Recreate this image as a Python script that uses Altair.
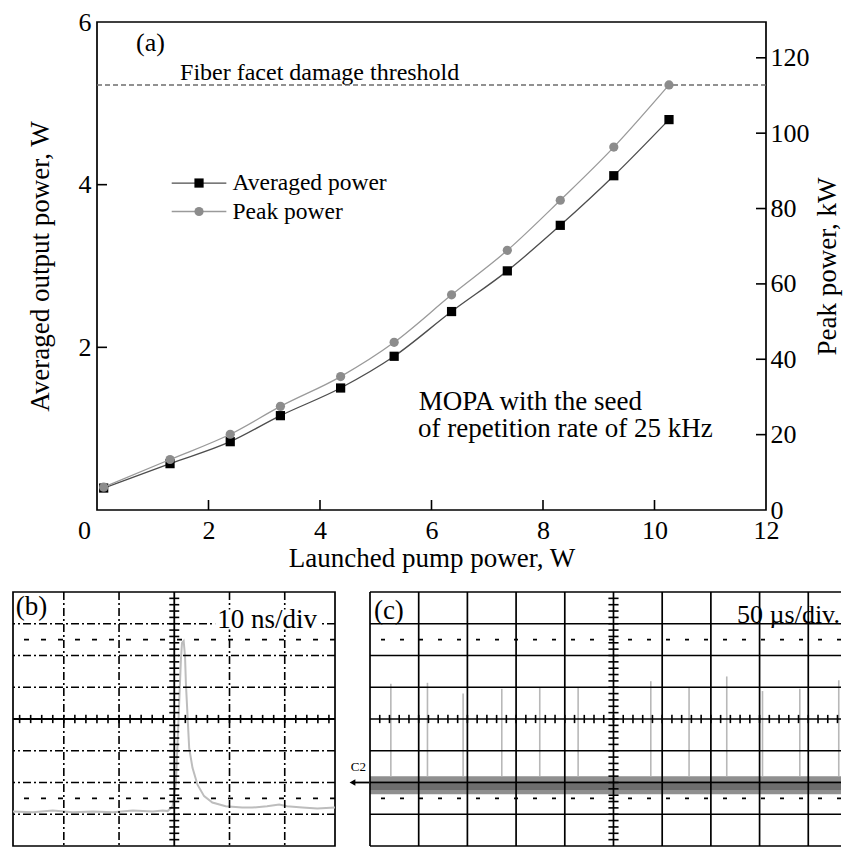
import altair as alt
import pandas as pd

FONT = "Liberation Serif"

# ---------------- panel (a): MOPA output ----------------
PUMP_W = [0.12, 1.31, 2.39, 3.29, 4.37, 5.33, 6.36, 7.36, 8.31, 9.27, 10.26]
AVG_W = [0.27, 0.57, 0.84, 1.16, 1.50, 1.89, 2.44, 2.94, 3.50, 4.11, 4.80]
PEAK_KW = [6.05, 13.4, 20.1, 27.5, 35.4, 44.5, 57.1, 68.9, 82.2, 96.3, 112.8]
THRESHOLD_KW = [112.8]

X_DOMAIN = [0, 12]
YL_DOMAIN = [0, 6]
YR_DOMAIN = [0, 129.5]
X_LABELS = [0, 2, 4, 6, 8, 10, 12]
YL_LABELS = [2, 4, 6]
YR_LABELS = [0, 20, 40, 60, 80, 100, 120]
X_INNER_TICKS = [2, 4, 6, 8, 10]
YL_INNER_TICKS = [2, 4]
YR_INNER_TICKS = [20, 40, 60, 80, 100, 120]

LEGEND_LABELS = ["Averaged power", "Peak power"]
LEGEND_Y = [4.02, 3.67]
LEGEND_LINE_X = [1.34, 2.32]
LEGEND_MARK_X = [1.83, 1.83]
LEGEND_TEXT_X = [2.43, 2.43]
LEGEND_LINE_COLOR = ["#4d4d4d", "#9a9a9a"]
LEGEND_MARK_COLOR = ["#000000", "#8c8c8c"]
LEGEND_SHAPE = ["square", "circle"]

NOTE_TEXTS = ["(a)", "Fiber facet damage threshold",
              "MOPA with the seed", "of repetition rate of 25 kHz"]
NOTE_X = [0.70, 1.49, 5.77, 5.76]
NOTE_Y = [5.74, 5.37, 1.33, 0.99]
NOTE_SIZE = [26, 24, 27, 27]

# ---------------- panel (b): single pulse, 10 ns/div ----------------
B_T_DOMAIN = [-29.2, 29.1]
DIV_DOMAIN = [-4, 4]
PULSE_T_NS = [-29.2, -25.6, -22.0, -18.4, -14.7, -11.1, -7.5, -3.9, -2.1, -1.2,
              -0.3, 0.3, 0.8, 1.2, 1.4, 1.7, 1.95, 2.1, 2.4, 2.7,
              3.3, 4.2, 5.4, 6.9, 9.3, 12.3, 14.1, 16.8, 19.0, 20.4,
              23.2, 25.9, 29.1]
PULSE_DIV = [-2.91, -2.94, -2.88, -2.94, -2.91, -2.94, -2.88, -2.91, -2.88, -2.90,
             -2.75, -1.97, 0.10, 1.87, 2.40, 2.46, 1.97, 1.14, 0.10, -0.92,
             -1.54, -2.07, -2.43, -2.63, -2.75, -2.79, -2.79, -2.75, -2.69, -2.75,
             -2.79, -2.82, -2.79]
B_VGRID = [-20, -10, 10, 20]
B_HGRID = [-3, -2, -1, 1, 2, 3]
B_MINOR_T = [v * 2 for v in range(-14, 15)]
B_TEXTS = ["(b)", "10 ns/div"]
B_TEXT_T = [-28.7, 7.8]
B_TEXT_Y = [3.52, 3.13]
B_TEXT_BG = [7.4, 26.4, 2.82, 3.45]

# ---------------- panel (c): pulse train, 50 us/div ----------------
C_T_DOMAIN = [-250, 233.6]
SPIKE_T_US = [-228.6, -191.0, -154.4, -114.7, -75.7, -36.3,
              38.3, 77.6, 116.3, 153.0, 191.3, 231.3]
SPIKE_DIV = [1.11, 1.14, 0.80, 0.95, 0.98, 0.98,
             1.19, 0.98, 1.34, 0.88, 0.95, 1.22]
NOISE_OUTER = [-2.37, -1.80]
NOISE_CORE = [-2.24, -1.95]
C_VGRID = [-250, -200, -150, -100, -50, 0, 50, 100, 150, 200]
C_HGRID = [-4, -3, -2, -1, 0, 1, 2, 3, 4]
C_MINOR_T = [v * 10 for v in range(-24, 24)]
MINOR_DIV = [v / 5 for v in range(-19, 20)]
C_LABEL = ["(c)"]
C_LABEL_POS = [-246, 3.40]
C_SCALE_TEXT = ["50 µs/div."]
C_SCALE_POS = [232.5, 3.27]
C2_LABEL = ["C2"]
C2_POS = [-262, -1.52]
C2_ARROW = [-268, -251, -2.0]

W_MAIN, H_MAIN = 669, 488
W_B, W_C, H_BOT = 322, 471, 254

# ================= panel (a) =================
xs = alt.Scale(domain=X_DOMAIN, nice=False, zero=False)
yls = alt.Scale(domain=YL_DOMAIN, nice=False, zero=False)
yrs = alt.Scale(domain=YR_DOMAIN, nice=False, zero=False)

x_axis = alt.Axis(values=X_LABELS, title="Launched pump power, W", domain=False,
                  ticks=False, tickSize=0, grid=False, labelFont=FONT, labelFontSize=26,
                  labelColor="black", labelPadding=7, labelOverlap=False, labelFlush=False,
                  labelOffset={"expr": "datum.value == 0 ? -13 : 0"},
                  titleFont=FONT, titleFontSize=27, titleFontWeight="normal",
                  titleColor="black", titlePadding=2)
yl_axis = alt.Axis(values=YL_LABELS, title="Averaged output power, W", orient="left",
                   domain=False, ticks=False, tickSize=0, grid=False, labelFont=FONT,
                   labelFontSize=26, labelColor="black", labelPadding=6, labelOverlap=False,
                   labelFlush=False, titleFont=FONT, titleFontSize=27,
                   titleFontWeight="normal", titleColor="black", titlePadding=24)
yr_axis = alt.Axis(values=YR_LABELS, title="Peak power, kW", orient="right",
                   domain=False, ticks=False, tickSize=0, grid=False, labelFont=FONT,
                   labelFontSize=26, labelColor="black", labelPadding=4, labelOverlap=False,
                   labelFlush=False, titleFont=FONT, titleFontSize=27,
                   titleFontWeight="normal", titleColor="black", titlePadding=5,
                   titleAngle=270, titleBaseline="top")

main_df = pd.DataFrame({"pump": PUMP_W, "avg": AVG_W, "peak": PEAK_KW})
X = alt.X("pump:Q", scale=xs, axis=x_axis)
YL = alt.Y("avg:Q", scale=yls, axis=yl_axis)
YR = alt.Y("peak:Q", scale=yrs, axis=yr_axis)

avg_line = alt.Chart(main_df).mark_line(interpolate="monotone", color="#4d4d4d",
                                        strokeWidth=1.3).encode(x=X, y=YL)
avg_pts = alt.Chart(main_df).mark_point(shape="square", filled=True, size=85,
                                        color="black", opacity=1).encode(x=X, y=YL)

x_ticks = alt.Chart(pd.DataFrame({"pump": X_INNER_TICKS})).mark_rule(
    color="black", strokeWidth=1.6).encode(x=X, y=alt.value(H_MAIN), y2=alt.value(H_MAIN - 10))
yl_ticks = alt.Chart(pd.DataFrame({"avg": YL_INNER_TICKS})).mark_rule(
    color="black", strokeWidth=1.6).encode(y=YL, x=alt.value(0), x2=alt.value(10))

notes_df = pd.DataFrame({"text": NOTE_TEXTS, "pump": NOTE_X, "avg": NOTE_Y, "size": NOTE_SIZE})
notes = alt.Chart(notes_df).mark_text(align="left", baseline="middle", font=FONT,
                                      color="black").encode(
    x=X, y=YL, text="text:N", size=alt.Size("size:Q", scale=None))

leg_df = pd.DataFrame({"label": LEGEND_LABELS, "avg": LEGEND_Y,
                       "x1": [LEGEND_LINE_X[0]] * 2, "x2": [LEGEND_LINE_X[1]] * 2,
                       "pump": LEGEND_MARK_X, "tx": LEGEND_TEXT_X,
                       "lc": LEGEND_LINE_COLOR, "mc": LEGEND_MARK_COLOR,
                       "shape": LEGEND_SHAPE})
leg_lines = alt.Chart(leg_df).mark_rule(strokeWidth=1.3).encode(
    x=alt.X("x1:Q", scale=xs, axis=x_axis), x2="x2:Q", y=YL,
    color=alt.Color("lc:N", scale=None))
leg_marks = alt.Chart(leg_df).mark_point(filled=True, size=85, opacity=1).encode(
    x=X, y=YL, shape=alt.Shape("shape:N", scale=None), color=alt.Color("mc:N", scale=None))
leg_text = alt.Chart(leg_df).mark_text(align="left", baseline="middle", font=FONT,
                                       fontSize=23.5, color="black").encode(
    x=alt.X("tx:Q", scale=xs, axis=x_axis), y=YL, text="label:N")

# invisible helper that fixes how far the left axis block extends
spacer = alt.Chart(pd.DataFrame({"s": ["."]})).mark_text(
    align="left", baseline="middle", color="white", fontSize=12, font=FONT).encode(
    text="s:N", x=alt.value(-72), y=alt.value(H_MAIN / 2))

left_group = alt.layer(avg_line, avg_pts, x_ticks, yl_ticks, notes,
                       leg_lines, leg_marks, leg_text, spacer)

peak_line = alt.Chart(main_df).mark_line(interpolate="monotone", color="#9a9a9a",
                                         strokeWidth=1.3).encode(x=X, y=YR)
peak_pts = alt.Chart(main_df).mark_point(shape="circle", filled=True, size=85,
                                         color="#8c8c8c", opacity=1).encode(x=X, y=YR)
threshold = alt.Chart(pd.DataFrame({"peak": THRESHOLD_KW})).mark_rule(
    color="#6e6e6e", strokeWidth=1.6, strokeDash=[5, 3]).encode(y=YR)
yr_ticks = alt.Chart(pd.DataFrame({"peak": YR_INNER_TICKS})).mark_rule(
    color="black", strokeWidth=1.6).encode(y=YR, x=alt.value(W_MAIN), x2=alt.value(W_MAIN - 10))

right_group = alt.layer(threshold, peak_line, peak_pts, yr_ticks)

main = alt.layer(left_group, right_group).resolve_scale(y="independent").properties(
    width=W_MAIN, height=H_MAIN)

# empty slot to the left of panel (a), so that panel (b) can start further left
dummy = alt.Chart(pd.DataFrame({"a": [0]})).mark_point(size=0, opacity=0).encode(
    x=alt.value(0), y=alt.value(0)).properties(
    width=1, height=1, view=alt.ViewBackground(stroke="transparent"))

top = alt.hconcat(dummy, main, spacing=9)

# ================= panel (b) =================
bx = alt.Scale(domain=B_T_DOMAIN, nice=False, zero=False)
by = alt.Scale(domain=DIV_DOMAIN, nice=False, zero=False)
BX = alt.X("t:Q", scale=bx, axis=None)
BY = alt.Y("d:Q", scale=by, axis=None)

b_trace = alt.Chart(pd.DataFrame({"t": PULSE_T_NS, "d": PULSE_DIV})).mark_line(
    color="#bdbdbd", strokeWidth=2).encode(x=BX, y=BY)
b_vgrid = alt.Chart(pd.DataFrame({"t": B_VGRID})).mark_rule(
    color="black", strokeWidth=1.6, strokeDash=[8, 3, 2, 3]).encode(x=BX)
b_hgrid = alt.Chart(pd.DataFrame({"d": B_HGRID})).mark_rule(
    color="black", strokeWidth=1.6, strokeDash=[8, 3, 2, 3]).encode(y=BY)
b_dash = alt.Chart(pd.DataFrame({"d": [-2.5, 2.5]})).mark_rule(
    color="black", strokeWidth=1.6, strokeDash=[5, 12]).encode(y=BY)
b_cv = alt.Chart(pd.DataFrame({"t": [0]})).mark_rule(color="black", strokeWidth=1.8).encode(x=BX)
b_ch = alt.Chart(pd.DataFrame({"d": [0]})).mark_rule(color="black", strokeWidth=1.8).encode(y=BY)
b_mt = alt.Chart(pd.DataFrame({"t": B_MINOR_T})).mark_rule(color="black", strokeWidth=1.6).encode(
    x=BX, y=alt.Y(datum=-0.13, scale=by, axis=None), y2=alt.Y2(datum=0.13))
b_mv = alt.Chart(pd.DataFrame({"d": MINOR_DIV})).mark_rule(color="black", strokeWidth=1.6).encode(
    y=BY, x=alt.X(datum=-0.9, scale=bx, axis=None), x2=alt.X2(datum=0.9))
b_bg = alt.Chart(pd.DataFrame({"t": [B_TEXT_BG[0]], "t2": [B_TEXT_BG[1]],
                               "d": [B_TEXT_BG[2]], "d2": [B_TEXT_BG[3]]})).mark_rect(
    color="white").encode(x=BX, x2="t2:Q", y=BY, y2="d2:Q")
b_text = alt.Chart(pd.DataFrame({"s": B_TEXTS, "t": B_TEXT_T, "d": B_TEXT_Y})).mark_text(
    align="left", baseline="middle", font=FONT, fontSize=27, color="black").encode(
    x=BX, y=BY, text="s:N")

panel_b = alt.layer(b_trace, b_vgrid, b_hgrid, b_dash, b_cv, b_ch, b_mt, b_mv,
                    b_bg, b_text).properties(width=W_B, height=H_BOT)

# ================= panel (c) =================
cx = alt.Scale(domain=C_T_DOMAIN, nice=False, zero=False)
cy = alt.Scale(domain=DIV_DOMAIN, nice=False, zero=False)
CX = alt.X("t:Q", scale=cx, axis=None)
CY = alt.Y("d:Q", scale=cy, axis=None)

band_df = pd.DataFrame({"t": [C_T_DOMAIN[0]] * 2, "t2": [C_T_DOMAIN[1]] * 2,
                        "d": [NOISE_OUTER[0], NOISE_CORE[0]],
                        "d2": [NOISE_OUTER[1], NOISE_CORE[1]],
                        "c": ["#8f8f8f", "#6e6e6e"]})
c_band = alt.Chart(band_df).mark_rect().encode(
    x=CX, x2="t2:Q", y=CY, y2="d2:Q", color=alt.Color("c:N", scale=None))
c_spikes = alt.Chart(pd.DataFrame({"t": SPIKE_T_US, "d": SPIKE_DIV})).mark_rule(
    color="#b8b8b8", strokeWidth=1.6).encode(x=CX, y=CY, y2=alt.Y2(datum=NOISE_OUTER[1]))
c_vgrid = alt.Chart(pd.DataFrame({"t": C_VGRID})).mark_rule(
    color="black", strokeWidth=1.7).encode(x=CX)
c_hgrid = alt.Chart(pd.DataFrame({"d": C_HGRID})).mark_rule(
    color="black", strokeWidth=1.7).encode(y=CY)
c_dash = alt.Chart(pd.DataFrame({"d": [-2.5, 2.5]})).mark_rule(
    color="black", strokeWidth=1.6, strokeDash=[4, 15]).encode(y=CY)
c_mt = alt.Chart(pd.DataFrame({"t": C_MINOR_T})).mark_rule(color="black", strokeWidth=1.6).encode(
    x=CX, y=alt.Y(datum=-0.13, scale=cy, axis=None), y2=alt.Y2(datum=0.13))
c_mv = alt.Chart(pd.DataFrame({"d": MINOR_DIV})).mark_rule(color="black", strokeWidth=1.6).encode(
    y=CY, x=alt.X(datum=-5.2, scale=cx, axis=None), x2=alt.X2(datum=5.2))
c_label = alt.Chart(pd.DataFrame({"s": C_LABEL, "t": [C_LABEL_POS[0]], "d": [C_LABEL_POS[1]]})).mark_text(
    align="left", baseline="middle", font=FONT, fontSize=27, color="black").encode(
    x=CX, y=CY, text="s:N")
c_scale = alt.Chart(pd.DataFrame({"s": C_SCALE_TEXT, "t": [C_SCALE_POS[0]], "d": [C_SCALE_POS[1]]})).mark_text(
    align="right", baseline="middle", font=FONT, fontSize=26, color="black").encode(
    x=CX, y=CY, text="s:N")
c2_text = alt.Chart(pd.DataFrame({"s": C2_LABEL, "t": [C2_POS[0]], "d": [C2_POS[1]]})).mark_text(
    align="center", baseline="middle", font=FONT, fontSize=13, color="black").encode(
    x=CX, y=CY, text="s:N")
c2_line = alt.Chart(pd.DataFrame({"t": [C2_ARROW[0]], "t2": [C2_ARROW[1]], "d": [C2_ARROW[2]]})).mark_rule(
    color="black", strokeWidth=1.8).encode(x=CX, x2="t2:Q", y=CY)
c2_head = alt.Chart(pd.DataFrame({"t": [C2_ARROW[0]], "d": [C2_ARROW[2]]})).mark_point(
    shape="triangle-left", filled=True, size=45, color="black", opacity=1).encode(x=CX, y=CY)

panel_c = alt.layer(c_band, c_spikes, c_vgrid, c_hgrid, c_dash, c_mt, c_mv, c_label,
                    c_scale, c2_text, c2_line, c2_head).properties(
    width=W_C, height=H_BOT, view=alt.ViewBackground(stroke="transparent"))

bottom = alt.hconcat(panel_b, panel_c, spacing=8)

chart = alt.vconcat(top, bottom, spacing=18).properties(
    padding={"left": 0, "top": 0, "right": 0, "bottom": 0}).configure_view(
    stroke="black", strokeWidth=1.7).configure_axis(labelFont=FONT, titleFont=FONT)

chart.save("out.html", embed_options={"renderer": "svg", "actions": False})
